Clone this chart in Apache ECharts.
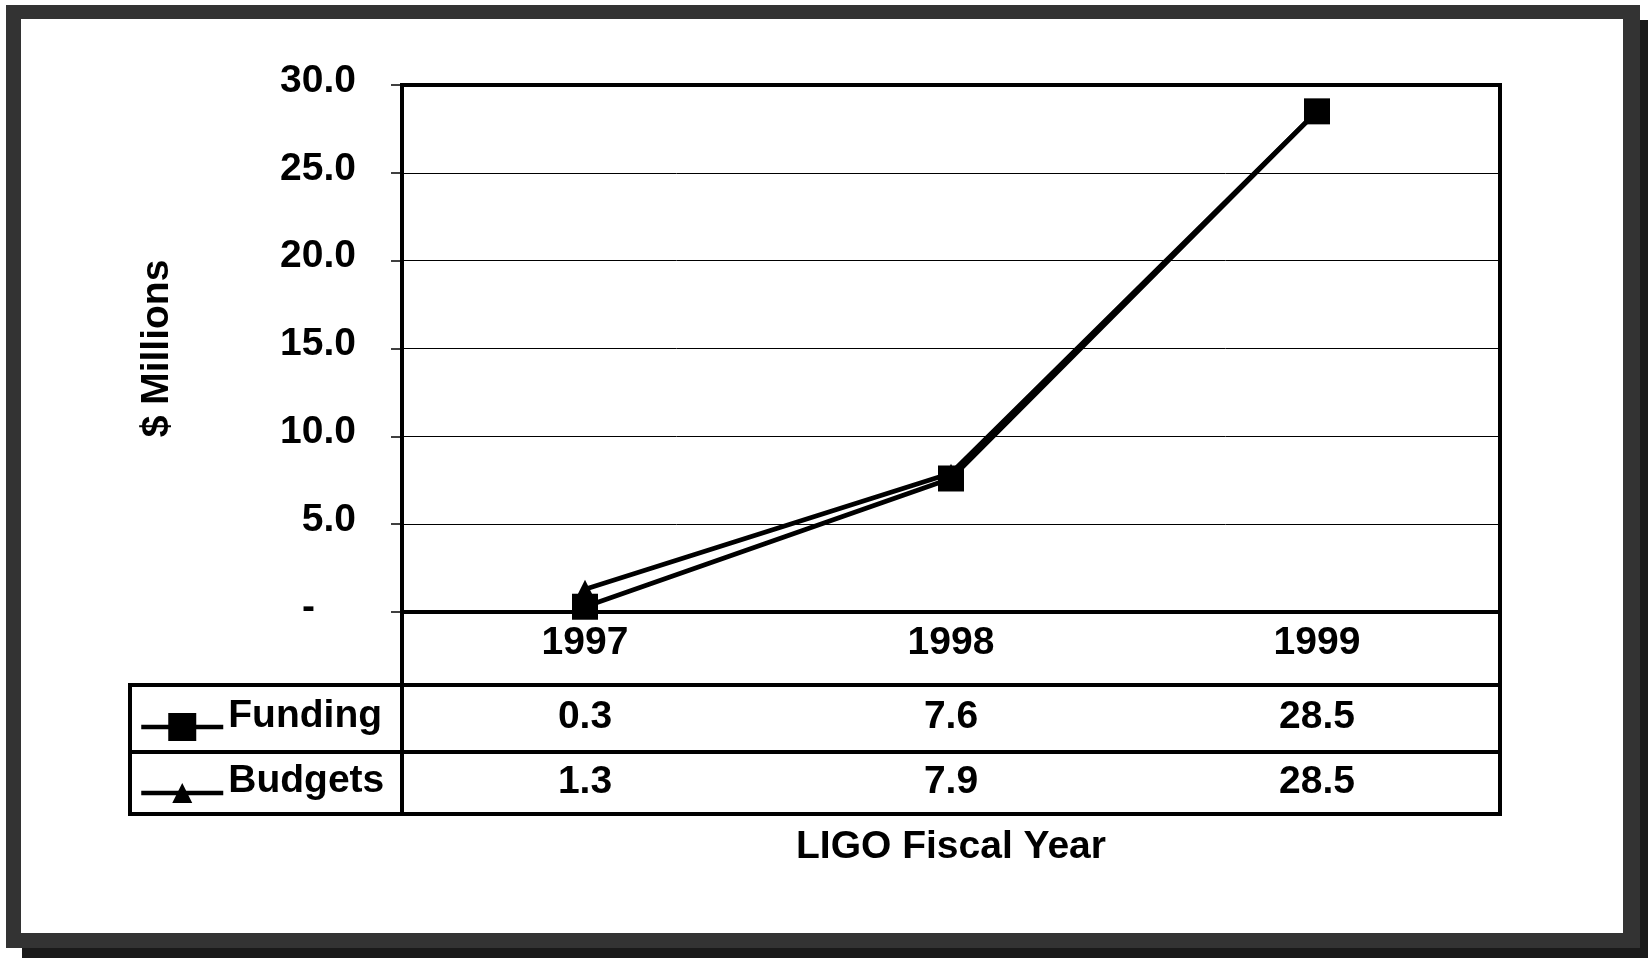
<!DOCTYPE html>
<html><head><meta charset="utf-8">
<script src="https://cdn.jsdelivr.net/npm/echarts@6/dist/echarts.min.js"></script>
<style>html,body{margin:0;padding:0;background:#fff}#c{width:1648px;height:958px}</style>
</head><body><div id="c"></div>
<script>
// ---- data ----
const categories = ['1997', '1998', '1999'];
const funding = [0.3, 7.6, 28.5];
const budgets = [1.3, 7.9, 28.5];
const yMin = 0, yMax = 30, yInterval = 5;
const xAxisTitle = 'LIGO Fiscal Year';
const yAxisTitle = '$ Millions';

// ---- layout / style ----
const FONT = '"Liberation Sans", Arial, sans-serif';
const FS = 39;
const W = 1648, H = 958;
const G = { left: 402, right: 148, top: 85, bottom: 346 };
const gridBottomY = H - G.bottom;   // 612
const gridRightX = W - G.right;     // 1500
const rowTop = 685, rowMid = 752, rowBot = 814, tableLeft = 130;
const txt = { fontFamily: FONT, fontSize: FS, fontWeight: 'bold', color: '#000' };

const chart = echarts.init(document.getElementById('c'), null, { renderer: 'canvas' });

function hline(y, x1, x2, w) {
  return { type: 'line', z: 50, shape: { x1: x1, y1: y, x2: x2, y2: y }, style: { stroke: '#000', lineWidth: w } };
}
function vline(x, y1, y2, w) {
  return { type: 'line', z: 50, shape: { x1: x, y1: y1, x2: x, y2: y2 }, style: { stroke: '#000', lineWidth: w } };
}
function legendText(spacer) {
  return {
    formatter: function (name) { return '{t|' + name + '}\n{s| }'; },
    textStyle: Object.assign({}, txt, {
      rich: {
        t: Object.assign({ lineHeight: FS }, txt),
        s: { fontSize: 2, lineHeight: spacer }
      }
    })
  };
}

const option = {
  animation: false,
  backgroundColor: '#fff',
  grid: { left: G.left, right: G.right, top: G.top, bottom: G.bottom, show: true, borderColor: '#000', borderWidth: 4, backgroundColor: 'transparent' },
  xAxis: [
    {
      type: 'category', data: categories, position: 'bottom', boundaryGap: true,
      axisLine: { show: true, lineStyle: { color: '#000', width: 4 } },
      axisTick: { show: false },
      axisLabel: Object.assign({ margin: 11.5, interval: 0 }, txt),
      name: xAxisTitle, nameLocation: 'middle', nameGap: 235,
      nameTextStyle: Object.assign({ verticalAlign: 'middle' }, txt),
      splitLine: { show: false }
    },
    {
      type: 'category', data: categories, position: 'bottom',
      axisLine: { show: false }, axisTick: { show: false }, splitLine: { show: false },
      axisLabel: Object.assign({ margin: 86, interval: 0, formatter: function (v, i) { return funding[i].toFixed(1); } }, txt)
    },
    {
      type: 'category', data: categories, position: 'bottom',
      axisLine: { show: false }, axisTick: { show: false }, splitLine: { show: false },
      axisLabel: Object.assign({ margin: 150.5, interval: 0, formatter: function (v, i) { return budgets[i].toFixed(1); } }, txt)
    }
  ],
  yAxis: {
    type: 'value', min: yMin, max: yMax, interval: yInterval,
    axisLine: { show: true, lineStyle: { color: '#000', width: 4 } },
    axisTick: { show: true, length: 11, lineStyle: { color: '#000', width: 1.5 } },
    splitLine: { show: true, lineStyle: { color: '#000', width: 1 } },
    axisLabel: Object.assign({
      margin: 46, padding: [0, 0, 8, 0],
      formatter: function (v) { return v === 0 ? '{z|-}' : v.toFixed(1); },
      rich: { z: Object.assign({ padding: [0, 41, 0, 0] }, txt) }
    }, txt),
    name: yAxisTitle, nameLocation: 'middle', nameGap: 245, nameRotate: 90,
    nameTextStyle: Object.assign({ verticalAlign: 'middle' }, txt)
  },
  legend: [
    Object.assign({
      data: [{ name: 'Funding', lineStyle: { width: 4.5 } }], left: 139, top: 696.5, padding: 0, itemWidth: 82, itemHeight: 35,
      selectedMode: false,
      lineStyle: { width: 4.5 }
    }, legendText(22)),
    Object.assign({
      data: [{ name: 'Budgets', lineStyle: { width: 4.5 } }], left: 139, top: 761.5, padding: 0, itemWidth: 82, itemHeight: 25,
      selectedMode: false,
      lineStyle: { width: 4.5 }
    }, legendText(24))
  ],
  series: [
    {
      name: 'Budgets', type: 'line', data: budgets, xAxisIndex: 0, z: 3,
      symbol: 'triangle', symbolSize: 19, showSymbol: true,
      lineStyle: { color: '#000', width: 4.8 }, itemStyle: { color: '#000' }
    },
    {
      name: 'Funding', type: 'line', data: funding, xAxisIndex: 0, z: 4,
      symbol: 'rect', symbolSize: 26, showSymbol: true,
      lineStyle: { color: '#000', width: 4.8 }, itemStyle: { color: '#000' }
    }
  ],
  graphic: [
    { type: 'rect', z: -100, shape: { x: 22, y: 20, width: 1626, height: 938 }, style: { fill: '#1a1a1a' } },
    { type: 'rect', z: -99, shape: { x: 6, y: 5, width: 1634, height: 943 }, style: { fill: '#333' } },
    { type: 'rect', z: -98, shape: { x: 21, y: 19, width: 1602, height: 914 }, style: { fill: '#fff' } },
    hline(rowTop, tableLeft - 2, gridRightX + 2, 4),
    hline(rowMid, tableLeft - 2, gridRightX + 2, 4),
    hline(rowBot, tableLeft - 2, gridRightX + 2, 4),
    vline(tableLeft, rowTop - 2, rowBot + 2, 4),
    vline(G.left, gridBottomY, rowBot + 2, 4),
    vline(gridRightX, gridBottomY, rowBot + 2, 4)
  ]
};
chart.setOption(option);
</script>
</body></html>
